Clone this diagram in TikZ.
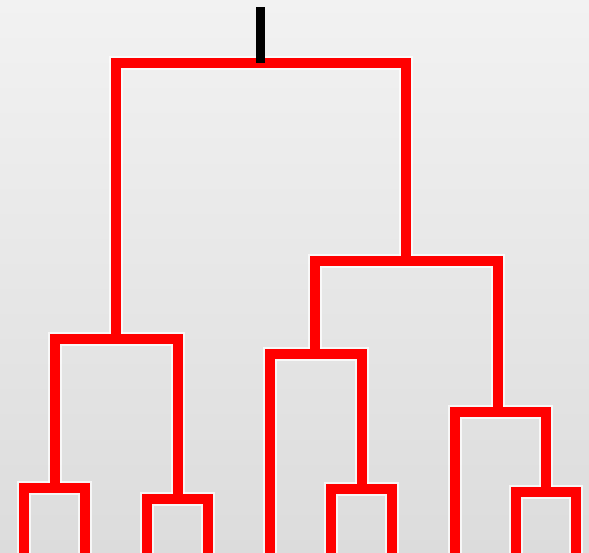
\documentclass[tikz,border=0pt]{standalone}
\usetikzlibrary{backgrounds}

\definecolor{paperTop}{RGB}{242,242,242}
\definecolor{paperBottom}{RGB}{220,220,220}

\begin{document}
\begin{tikzpicture}
    [x=1pt, y=-1pt,
    link/.style={draw=red, line width=10pt},
    halo/.style={draw=white, line width=14pt, opacity=0.75},
    stem/.style={draw=black, line width=9pt}]
        \useasboundingbox (0,0) rectangle (589,552);
        \shade[top color=paperTop, bottom color=paperBottom] (0,0) rectangle (589,552);
        \clip (0,0) rectangle (589,552);

        %% Merge points
        \coordinate (top) at (260,7);
        \coordinate (root) at (260,63);
        \coordinate (L) at (116,339);
        \coordinate (R) at (406,261);
        \coordinate (LL) at (55,488);
        \coordinate (LR) at (178,499);
        \coordinate (RL) at (315,354);
        \coordinate (RR) at (498,412);
        \coordinate (RLR) at (362,489);
        \coordinate (RRR) at (546,492);

        %% Leaves
        \coordinate (l1) at (24,560);
        \coordinate (l2) at (85,560);
        \coordinate (l3) at (147,560);
        \coordinate (l4) at (208,560);
        \coordinate (l5) at (270,560);
        \coordinate (l6) at (331,560);
        \coordinate (l7) at (392,560);
        \coordinate (l8) at (455,560);
        \coordinate (l9) at (516,560);
        \coordinate (l10) at (576,560);

        %% Tree
        \foreach \a/\m/\b in {L/root/R, LL/L/LR, l1/LL/l2, l3/LR/l4,
            RL/R/RR, l5/RL/RLR, l6/RLR/l7, l8/RR/RRR, l9/RRR/l10}
            \draw[halo] (\a) |- (\m) -| (\b);
        \foreach \a/\m/\b in {L/root/R, LL/L/LR, l1/LL/l2, l3/LR/l4,
            RL/R/RR, l5/RL/RLR, l6/RLR/l7, l8/RR/RRR, l9/RRR/l10}
            \draw[link] (\a) |- (\m) -| (\b);

        \draw[stem] (top) -- (root);
    \end{tikzpicture}
\end{document}
